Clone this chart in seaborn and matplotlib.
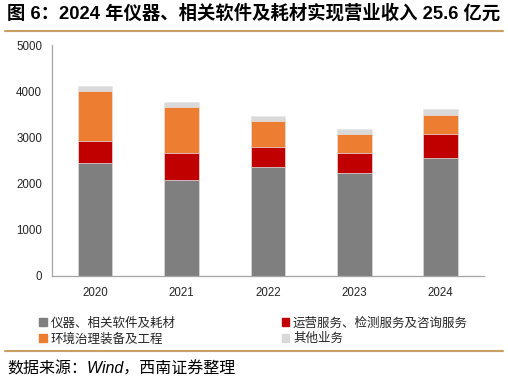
import matplotlib
matplotlib.use('Agg')
import matplotlib.pyplot as plt
import numpy as np
import pandas as pd
import seaborn as sns
from matplotlib.lines import Line2D
from matplotlib.patches import Patch

# 营业收入构成（百万元）
years = ['2020', '2021', '2022', '2023', '2024']
instrument = [2457, 2085, 2364, 2220, 2560]
service = [468, 587, 425, 446, 517]
engineering = [1077, 979, 560, 403, 416]
other = [108, 114, 114, 108, 114]

series_names = ['仪器、相关软件及耗材', '运营服务、检测服务及咨询服务',
                '环境治理装备及工程', '其他业务']
colors = ['#7F7F7F', '#C00000', '#ED7D31', '#D9D9D9']

sns.set_theme(style='white')
plt.rcParams['font.family'] = ['Liberation Sans', 'Noto Sans CJK SC', 'DejaVu Sans']

df = pd.DataFrame({'year': years,
                   series_names[0]: instrument,
                   series_names[1]: service,
                   series_names[2]: engineering,
                   series_names[3]: other})
cum = df[series_names].cumsum(axis=1)

fig = plt.figure(figsize=(5.08, 3.82), dpi=100)
ax = fig.add_axes([0.1018, 0.2775, 0.851, 0.6045])

# stacked bars: draw cumulative totals from the top layer down
for name, c in reversed(list(zip(series_names, colors))):
    sns.barplot(x=df['year'], y=cum[name], color=c, saturation=1, width=0.4,
                edgecolor='#E6E6E6', linewidth=0.5, ax=ax)

ax.set_ylim(0, 5000)
ax.set_xlim(-0.5, 4.5)
ax.set_yticks(range(0, 5001, 1000))
ax.set_xlabel('')
ax.set_ylabel('')
for s in ['top', 'right']:
    ax.spines[s].set_visible(False)
for s in ['left', 'bottom']:
    ax.spines[s].set_color('#A6A6A6')
    ax.spines[s].set_linewidth(0.9)
ax.set_xticks(np.arange(0.5, 5, 1), minor=True)
ax.tick_params(axis='x', which='major', length=0, labelsize=8.3, colors='#262626', pad=8)
ax.tick_params(axis='x', which='minor', length=4, direction='out', color='#A6A6A6', width=0.9)
ax.tick_params(axis='y', length=3, direction='out', color='#A6A6A6', width=0.9,
               labelsize=8.3, labelcolor='#262626', pad=4)
ax.grid(False)

handles = [Patch(color=colors[i], label=series_names[i]) for i in [0, 2, 1, 3]]
fig.legend(handles=handles, ncol=2, loc='upper left', bbox_to_anchor=(0.065, 0.185),
           frameon=False, fontsize=9, handlelength=0.6, handleheight=0.6,
           handletextpad=0.3, columnspacing=8.5, labelspacing=0.25, borderpad=0,
           labelcolor='#262626')

fig.text(7 / 508, 1 - 13 / 382, '图 6：2024 年仪器、相关软件及耗材实现营业收入 25.6 亿元',
         fontsize=13.2, fontweight='bold', va='center', ha='left', color='black')
fig.text(7 / 508, 1 - 369 / 382, '数据来源：Wind，西南证券整理',
         fontsize=11.5, style='italic', va='center', ha='left', color='black')

for yy in [1 - 31 / 382, 1 - 351 / 382]:
    fig.add_artist(Line2D([0.01, 0.99], [yy, yy], transform=fig.transFigure,
                          color='#C8A064', lw=1.5))

fig.savefig('out.png', dpi=100)
